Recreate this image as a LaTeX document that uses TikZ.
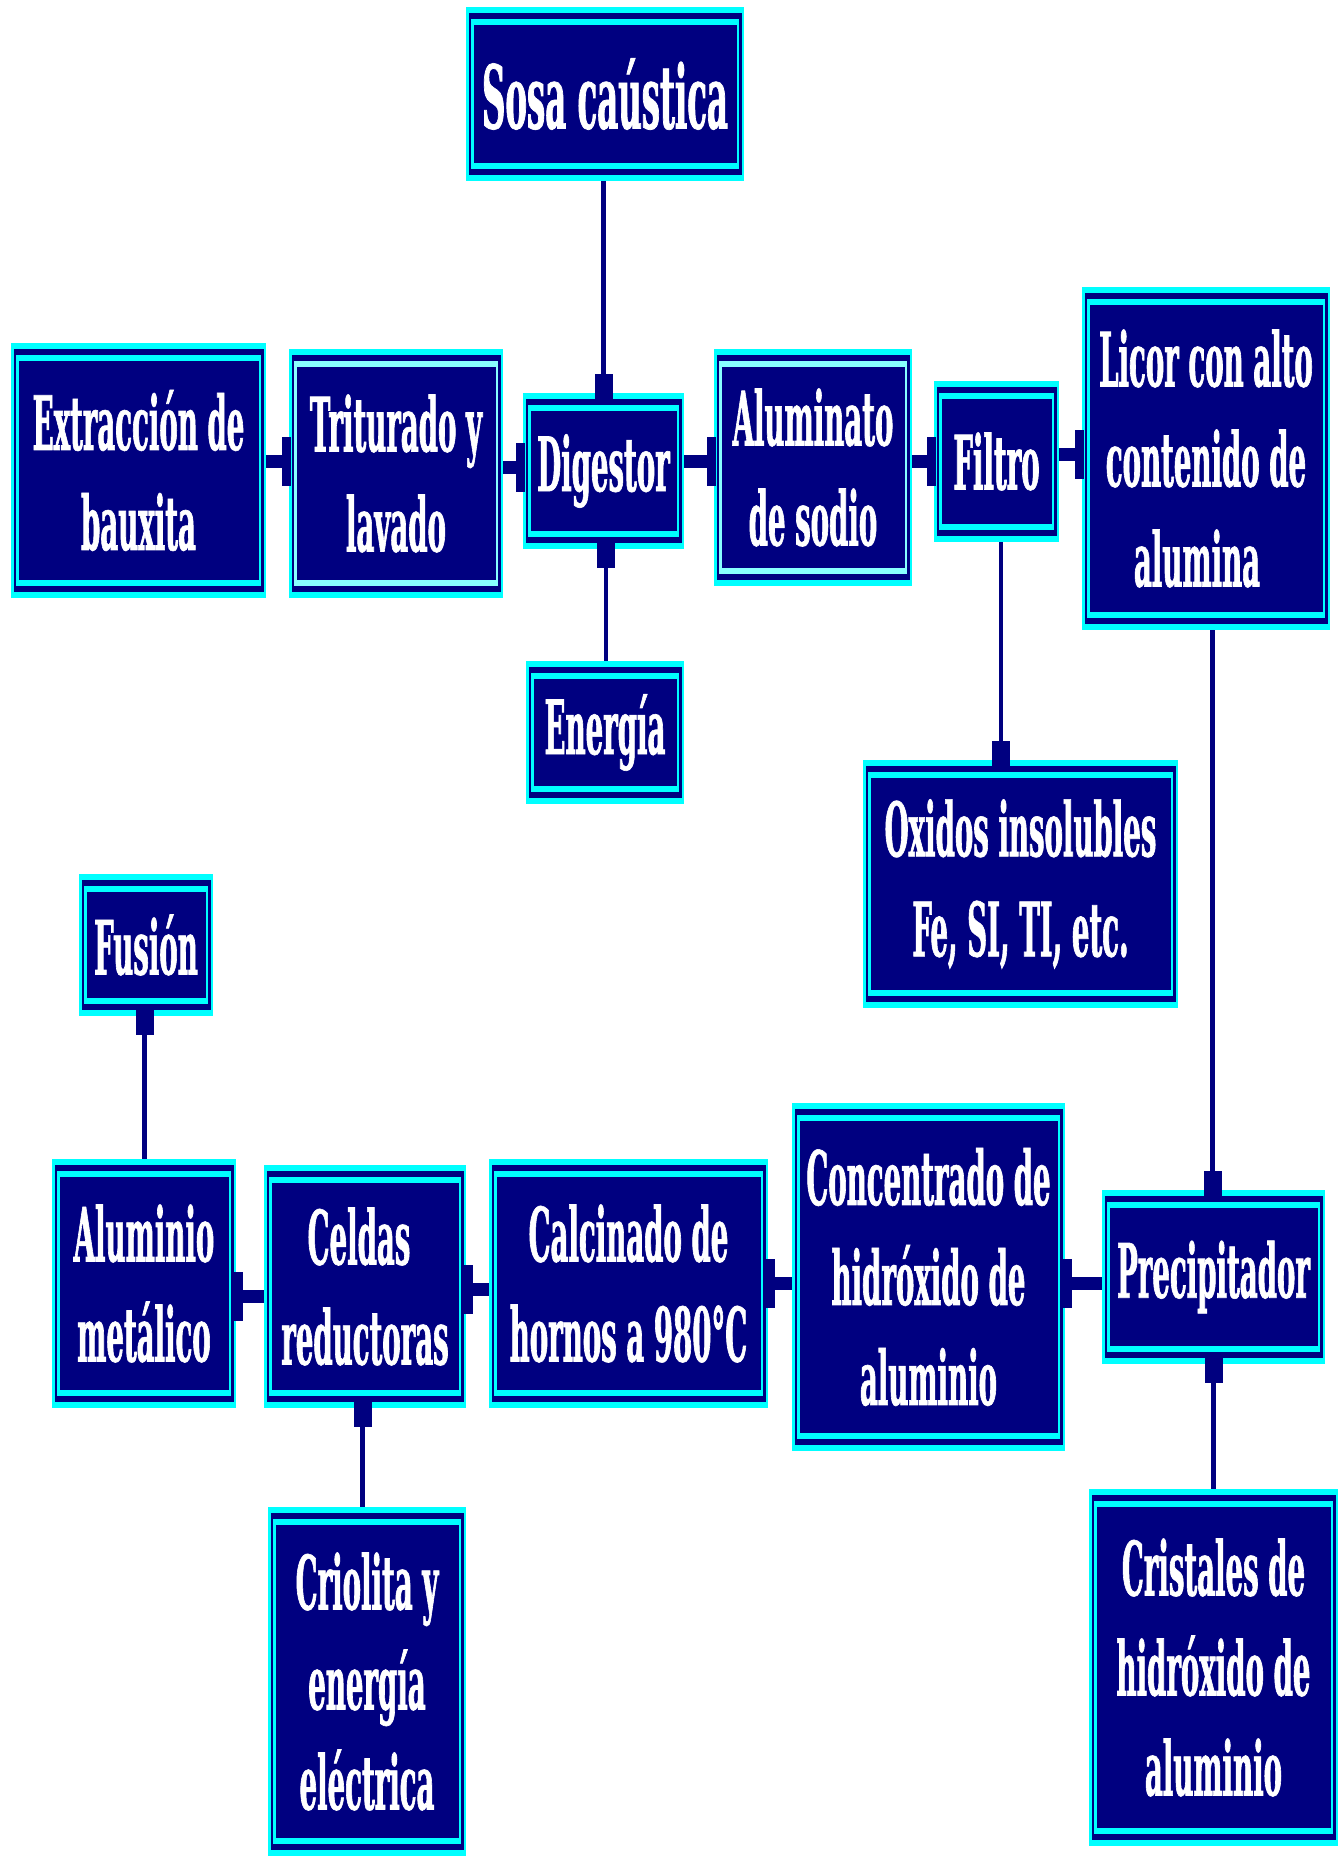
\documentclass[tikz,border=0pt]{standalone}
\usepackage{fontspec}
\newfontfamily\boxfont[FakeStretch=0.368,FakeBold=0.8]{DejaVu Serif}
\definecolor{navyc}{RGB}{0,0,128}
\definecolor{cyanc}{RGB}{0,255,255}
\definecolor{lcyan}{RGB}{136,255,255}

\tikzset{
  ring/.store in=\ringcol, ring=cyanc,
  stage/.style={rectangle, inner sep=0pt, fill=cyanc, text=white, align=center,
    font=\boxfont\bfseries\fontsize{75pt}{100pt}\selectfont,
    path picture={
      \fill[navyc] ([shift={(2.5pt,-6pt)}]path picture bounding box.north west)
        rectangle ([shift={(-2.5pt,6pt)}]path picture bounding box.south east);
      \fill[\ringcol] ([shift={(5pt,-12pt)}]path picture bounding box.north west)
        rectangle ([shift={(-5pt,12pt)}]path picture bounding box.south east);
      \fill[navyc] ([shift={(7.5pt,-18pt)}]path picture bounding box.north west)
        rectangle ([shift={(-7.5pt,18pt)}]path picture bounding box.south east);
    }},
  hlink/.style={draw=navyc, line width=13pt},
  vlink/.style={draw=navyc, line width=4.5pt},
  capW/.pic={\fill[navyc] (-7,-24.5) rectangle (2.5,24.5);},
  capE/.pic={\fill[navyc] (-2.5,-24.5) rectangle (7,24.5);},
  capN/.pic={\fill[navyc] (-9,-19) rectangle (9,7);},
  capS/.pic={\fill[navyc] (-9,-7) rectangle (9,19);},
}

% \stage[options]{name}{x1}{y1}{x2}{y2}{text}
\newcommand\stage[7][]{%
  \node[stage,#1,minimum width={(#5-#3)*1pt},minimum height={(#6-#4)*1pt}]
    (#2) at ({(#3+#5)/2},{(#4+#6)/2}) {#7};}

\begin{document}
\begin{tikzpicture}[x=1pt,y=-1pt]
\fill[white] (0,0) rectangle (1340,1860);
\useasboundingbox (0,0) rectangle (1340,1860);

% process stages
\stage[font=\boxfont\bfseries\fontsize{88pt}{100pt}\selectfont]{sosa}{466}{7}{744}{181}{Sosa caústica}
\stage{extr}{11}{343}{266}{598}{Extracción de\\bauxita}
\stage[ring=lcyan]{trit}{289}{349}{503}{598}{Triturado y\\lavado}
\stage{dig}{523}{393}{684}{549}{Digestor}
\stage[ring=lcyan]{alum}{714}{349}{912}{586}{Aluminato\\de sodio}
\stage{filt}{934}{381}{1059}{542}{Filtro}
\stage{licor}{1082}{287}{1330}{630}{Licor con alto\\contenido de\\alumina\hspace*{18pt}}
\stage{ener}{526}{661}{684}{804}{Energía}
\stage{oxid}{863}{760}{1178}{1008}{Oxidos insolubles\\Fe, SI, TI, etc.}
\stage{fusion}{79}{874}{213}{1016}{Fusión}
\stage{alumet}{52}{1159}{236}{1408}{Aluminio\\metálico}
\stage{celdas}{264}{1165}{466}{1408}{Celdas\hspace*{12pt}\\reductoras}
\stage{calc}{489}{1159}{768}{1408}{Calcinado de\\hornos a 980°C}
\stage{conc}{792}{1103}{1065}{1451}{Concentrado de\\hidróxido de\\aluminio}
\stage{precip}{1102}{1190}{1325}{1364}{Precipitador}
\stage{criol}{268}{1507}{466}{1856}{Criolita y\\energía\\eléctrica}
\stage{crist}{1089}{1489}{1338}{1846}{Cristales de\\hidróxido de\\aluminio}

% horizontal connectors, upper row (left to right)
\coordinate (h1) at ([yshift=12pt]trit.west);
\draw[hlink] (extr.east |- h1) -- (h1);
\pic at (h1) {capW};
\coordinate (h2) at ([yshift=3.5pt]dig.west);
\draw[hlink] (trit.east |- h2) -- (h2);
\pic at (h2) {capW};
\coordinate (h3) at ([yshift=6.5pt]alum.west);
\draw[hlink] (dig.east |- h3) -- (h3);
\pic at (h3) {capW};
\coordinate (h4) at (filt.west);
\draw[hlink] (alum.east |- h4) -- (h4);
\pic at (h4) {capW};
\coordinate (h5) at ([yshift=4pt]licor.west);
\draw[hlink] (filt.east |- h5) -- (h5);
\pic at (h5) {capW};

% horizontal connectors, lower row (right to left)
\coordinate (h6) at ([yshift=-6.5pt]conc.east);
\draw[hlink] (precip.west |- h6) -- (h6);
\pic at (h6) {capE};
\coordinate (h7) at (calc.east);
\draw[hlink] (conc.west |- h7) -- (h7);
\pic at (h7) {capE};
\coordinate (h8) at ([yshift=-3pt]celdas.east);
\draw[hlink] (calc.west |- h8) -- (h8);
\pic at (h8) {capE};
\coordinate (h9) at ([yshift=-12.5pt]alumet.east);
\draw[hlink] (celdas.west |- h9) -- (h9);
\pic at (h9) {capE};

% vertical connectors
\coordinate (v1) at (dig.north);
\draw[vlink] (v1 |- sosa.south) -- (v1);
\pic at (v1) {capN};
\coordinate (v2) at ([xshift=2.5pt]dig.south);
\draw[vlink] (v2 |- ener.north) -- (v2);
\pic at (v2) {capS};
\coordinate (v3) at ([xshift=-19.5pt]oxid.north);
\draw[vlink] (v3 |- filt.south) -- (v3);
\pic at (v3) {capN};
\coordinate (v4) at ([xshift=-1pt]precip.north);
\draw[vlink] (v4 |- licor.south) -- (v4);
\pic at (v4) {capN};
\coordinate (v5) at (precip.south);
\draw[vlink] (v5 |- crist.north) -- (v5);
\pic at (v5) {capS};
\coordinate (v6) at ([xshift=-2.5pt]celdas.south);
\draw[vlink] (v6 |- criol.north) -- (v6);
\pic at (v6) {capS};
\coordinate (v7) at ([xshift=-1.5pt]fusion.south);
\draw[vlink] (v7 |- alumet.north) -- (v7);
\pic at (v7) {capS};
\end{tikzpicture}
\end{document}
